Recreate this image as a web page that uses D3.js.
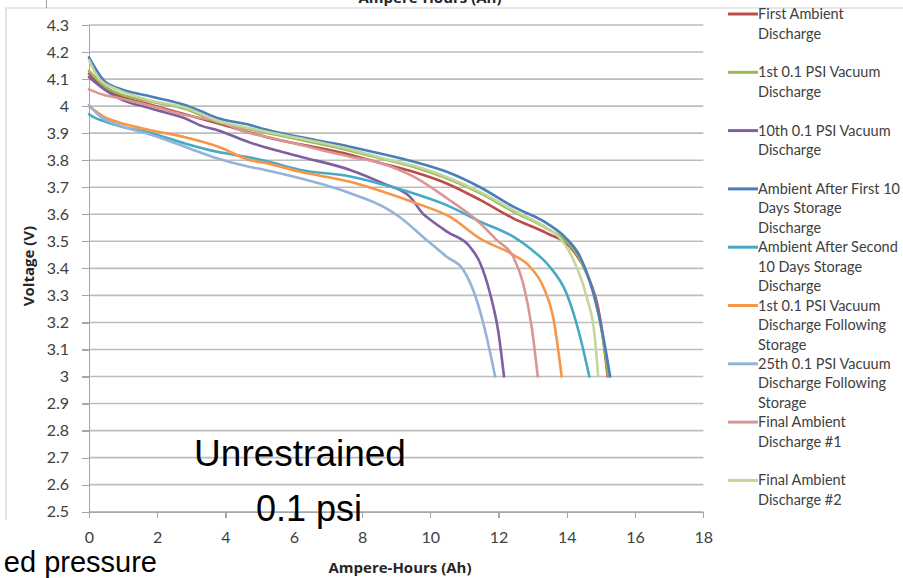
<!DOCTYPE html>
<html lang="en">
<head>
<meta charset="UTF-8">
<title>Discharge Voltage vs Ampere-Hours</title>
<script src="https://d3js.org/d3.v7.min.js"></script>
<style>
  body { margin: 0; background: #fff; }
  svg { display: block; }
  .grid line { stroke: #bdbdbd; stroke-width: 1.6; }
  .axis path, .axis line { stroke: #a6a6a6; stroke-width: 1.2; shape-rendering: crispEdges; }
  .axis text { font-family: Lato, "Open Sans", sans-serif; font-size: 16px; fill: #404040; }
  .series { fill: none; stroke-width: 2.6; stroke-linejoin: round; stroke-linecap: round; }
  .legend text { font-family: Lato, "Open Sans", sans-serif; font-size: 14.5px; fill: #404040; }
  .title { font-family: "Open Sans", Lato, sans-serif; font-weight: bold; font-size: 15px; fill: #262626; }
  .note { font-family: "Liberation Sans", Arial, sans-serif; fill: #000; }
</style>
</head>
<body>
<script>
  // Series names (legend order) and colours
  var seriesNames = [
    "First Ambient Discharge",
    "1st 0.1 PSI Vacuum Discharge",
    "10th 0.1 PSI Vacuum Discharge",
    "Ambient After First 10 Days Storage Discharge",
    "Ambient After Second 10 Days Storage Discharge",
    "1st 0.1 PSI Vacuum Discharge Following Storage",
    "25th 0.1 PSI Vacuum Discharge Following Storage",
    "Final Ambient Discharge #1",
    "Final Ambient Discharge #2"
  ];
  // legend labels as they wrap in the original
  var legendLines = [
    ["First Ambient", "Discharge"],
    ["1st 0.1 PSI Vacuum", "Discharge"],
    ["10th 0.1 PSI Vacuum", "Discharge"],
    ["Ambient After First 10", "Days Storage", "Discharge"],
    ["Ambient After Second", "10 Days Storage", "Discharge"],
    ["1st 0.1 PSI Vacuum", "Discharge Following", "Storage"],
    ["25th 0.1 PSI Vacuum", "Discharge Following", "Storage"],
    ["Final Ambient", "Discharge #1"],
    ["Final Ambient", "Discharge #2"]
  ];
  var seriesColors = ["#be4b48", "#98b954", "#7d60a0", "#4a7ebb", "#46aac5",
                      "#f79646", "#95b3d7", "#d99694", "#c3d69b"];

  // [Ampere-hours, Volts]
  var firstAmbient = [[0,4.12],[0.3,4.08],[0.86,4.04],[1.84,4.004],[2.81,3.97],[3.79,3.936],[5.16,3.887],
    [7.65,3.82],[8.53,3.79],[9.5,3.757],[10.48,3.714],[11.46,3.653],[12.43,3.585],[13.41,3.53],
    [14.09,3.48],[14.58,3.382],[14.97,3.22],[15.2,3.0]];
  var vacuum1st = [[0,4.13],[0.47,4.072],[0.86,4.047],[1.84,4.016],[2.81,3.99],[3.79,3.94],[4.72,3.914],
    [7.65,3.835],[8.53,3.807],[9.5,3.776],[10.48,3.733],[11.46,3.678],[12.43,3.61],[13.41,3.548],
    [13.99,3.5],[14.4,3.43],[14.8,3.3],[15.05,3.15],[15.22,3.0]];
  var vacuum10th = [[0,4.107],[0.47,4.06],[0.86,4.03],[1.84,3.99],[2.81,3.955],[3.3,3.927],[3.79,3.91],
    [4.72,3.865],[5.16,3.848],[6.19,3.813],[7.65,3.764],[8.62,3.714],[9.4,3.665],[9.8,3.6],[10.0,3.58],
    [10.5,3.535],[11.16,3.48],[11.46,3.42],[11.75,3.308],[12.0,3.16],[12.16,3.0]];
  var ambientStorage1 = [[0,4.18],[0.47,4.09],[0.86,4.066],[1.84,4.035],[2.81,4.004],[3.3,3.98],[3.79,3.955],
    [4.72,3.93],[5.16,3.914],[7.65,3.85],[8.53,3.825],[9.5,3.795],[10.48,3.757],[11.46,3.7],[12.43,3.628],
    [13.41,3.567],[13.99,3.51],[14.39,3.443],[14.78,3.308],[15.07,3.147],[15.27,3.0]];
  var ambientStorage2 = [[0,3.97],[0.12,3.96],[0.47,3.943],[0.86,3.927],[1.84,3.9],[2.81,3.862],[3.79,3.83],
    [4.72,3.81],[5.16,3.798],[6.19,3.764],[7.65,3.74],[8.62,3.71],[9.5,3.678],[10.48,3.634],[11.46,3.573],
    [12.43,3.517],[12.92,3.474],[13.5,3.406],[13.99,3.308],[14.39,3.147],[14.66,3.0]];
  var vacuumStorage1st = [[0,4.0],[0.47,3.958],[0.86,3.94],[1.84,3.91],[2.81,3.885],[3.79,3.85],[4.72,3.8],
    [5.16,3.79],[6.19,3.757],[7.65,3.72],[8.62,3.683],[9.6,3.64],[10.58,3.59],[11.46,3.51],[12.43,3.45],
    [12.92,3.406],[13.31,3.332],[13.6,3.22],[13.85,3.0]];
  var vacuumStorage25th = [[0,4.004],[0.35,3.96],[0.86,3.93],[1.84,3.893],[2.81,3.85],[3.79,3.805],[4.72,3.775],
    [5.16,3.764],[6.19,3.733],[7.65,3.678],[8.62,3.628],[9.1,3.59],[9.89,3.505],[10.48,3.443],
    [10.97,3.394],[11.36,3.283],[11.65,3.147],[11.9,3.0]];
  var finalAmbient1 = [[0,4.062],[0.47,4.04],[0.86,4.03],[1.84,4.0],[2.81,3.967],[3.79,3.943],[4.72,3.9],
    [5.16,3.888],[7.65,3.813],[8.53,3.79],[9.5,3.74],[10.48,3.66],[11.46,3.567],[11.94,3.505],[12.43,3.443],
    [12.72,3.345],[12.97,3.184],[13.15,3.0]];
  var finalAmbient2 = [[0,4.17],[0.3,4.1],[0.86,4.06],[1.84,4.02],[2.81,3.995],[3.79,3.945],[4.72,3.918],
    [7.65,3.84],[8.53,3.81],[9.5,3.78],[10.48,3.738],[11.46,3.683],[12.43,3.615],[13.41,3.55],[13.74,3.52],
    [14.2,3.43],[14.58,3.295],[14.82,3.147],[14.92,3.0]];

  var seriesData = [firstAmbient, vacuum1st, vacuum10th, ambientStorage1, ambientStorage2,
                    vacuumStorage1st, vacuumStorage25th, finalAmbient1, finalAmbient2];

  // tick values
  var xTicks = [0, 2, 4, 6, 8, 10, 12, 14, 16, 18];
  var yTicks = d3.range(25, 44).map(function(d) { return d / 10; });

  var width = 903, height = 578;

  var svg = d3.select("body").append("svg")
      .attr("width", width)
      .attr("height", height);

  // chart frame (partly visible panel edges)
  svg.append("path")
      .attr("d", "M6,520 V8 H903")
      .attr("fill", "none")
      .attr("stroke", "#d0d0d0")
      .attr("stroke-width", 1.2);
  svg.append("line")
      .attr("x1", 46.5).attr("x2", 46.5).attr("y1", 0).attr("y2", 8)
      .attr("stroke", "#a0a0a0");

  // cut-off axis title at the very top
  svg.append("text")
      .attr("class", "title")
      .attr("x", 430).attr("y", 3)
      .attr("text-anchor", "middle")
      .text("Ampere-Hours (Ah)");

  // scales
  var x = d3.scaleLinear().domain([0, 18]).range([89, 703.3]);
  var y = d3.scaleLinear().domain([2.5, 4.3]).range([511.7, 25]);

  // horizontal gridlines
  svg.append("g")
      .attr("class", "grid")
    .selectAll("line")
    .data(yTicks)
    .enter().append("line")
      .attr("x1", x(0)).attr("x2", x(18))
      .attr("y1", function(d) { return y(d); })
      .attr("y2", function(d) { return y(d); });

  // axes
  svg.append("g")
      .attr("class", "axis")
      .attr("transform", "translate(" + x(0) + ",0)")
      .call(d3.axisLeft(y).tickValues(yTicks).tickSize(7).tickPadding(13)
        .tickFormat(function(d) { return String(+d.toFixed(1)); }));

  svg.append("g")
      .attr("class", "axis")
      .attr("transform", "translate(0," + y(2.5) + ")")
      .call(d3.axisBottom(x).tickValues(xTicks).tickSize(6).tickPadding(14));

  // axis titles
  svg.append("text")
      .attr("class", "title")
      .attr("transform", "translate(34,266) rotate(-90)")
      .attr("text-anchor", "middle")
      .text("Voltage (V)");

  svg.append("text")
      .attr("class", "title")
      .attr("x", 400).attr("y", 573)
      .attr("text-anchor", "middle")
      .text("Ampere-Hours (Ah)");

  // series lines
  var line = d3.line()
      .x(function(d) { return x(d[0]); })
      .y(function(d) { return y(d[1]); })
      .curve(d3.curveMonotoneX);

  svg.append("g")
    .selectAll("path")
    .data(seriesData)
    .enter().append("path")
      .attr("class", "series")
      .attr("stroke", function(d, i) { return seriesColors[i]; })
      .attr("d", line)
    .append("title")
      .text(function(d, i) { return seriesNames[i]; });

  // legend
  var legend = svg.append("g").attr("class", "legend");
  var entry = legend.selectAll("g")
    .data(legendLines)
    .enter().append("g")
      .attr("transform", function(d, i) { return "translate(728," + (14 + i * 58.3) + ")"; });

  entry.append("line")
      .attr("x1", 0).attr("x2", 30)
      .attr("stroke", function(d, i) { return seriesColors[i]; })
      .attr("stroke-width", 3);

  entry.append("text")
      .attr("x", 30)
      .attr("y", 5)
    .selectAll("tspan")
    .data(function(d) { return d; })
    .enter().append("tspan")
      .attr("x", 30)
      .attr("dy", function(d, i) { return i ? 19.6 : 0; })
      .text(function(d) { return d; });

  // pasted-over slide notes
  svg.append("text")
      .attr("class", "note")
      .attr("x", 300).attr("y", 466)
      .attr("text-anchor", "middle")
      .style("font-size", "37px")
      .text("Unrestrained");

  svg.append("text")
      .attr("class", "note")
      .attr("x", 309).attr("y", 521)
      .attr("text-anchor", "middle")
      .style("font-size", "36px")
      .text("0.1 psi");

  svg.append("text")
      .attr("class", "note")
      .attr("x", 157).attr("y", 572)
      .attr("text-anchor", "end")
      .style("font-size", "29px")
      .text("ed pressure");
</script>
</body>
</html>
